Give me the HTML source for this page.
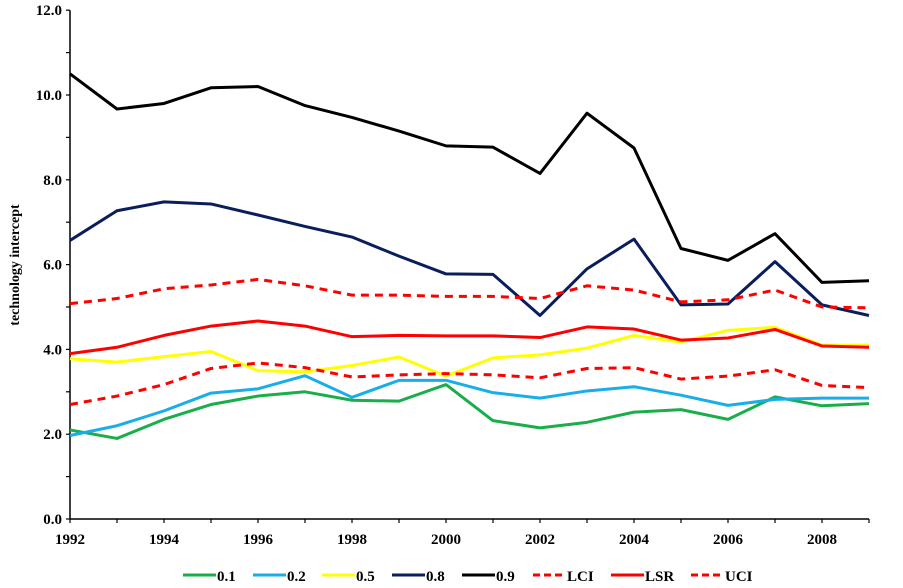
<!DOCTYPE html>
<html><head><meta charset="utf-8"><style>
body{margin:0;background:#fff;}
svg text{font-family:"Liberation Serif",serif;font-weight:bold;fill:#000;}
</style></head><body>
<svg id="chart" width="903" height="583"></svg>
<script>
const years=[1992,1993,1994,1995,1996,1997,1998,1999,2000,2001,2002,2003,2004,2005,2006,2007,2008,2009];
const s01=[2.1,1.9,2.35,2.7,2.9,3.0,2.8,2.78,3.17,2.32,2.15,2.28,2.52,2.58,2.35,2.88,2.67,2.72];
const s02=[1.97,2.2,2.55,2.97,3.07,3.38,2.87,3.27,3.27,2.98,2.85,3.02,3.12,2.92,2.68,2.82,2.85,2.85];
const s05=[3.78,3.7,3.83,3.95,3.5,3.47,3.62,3.82,3.37,3.8,3.87,4.03,4.33,4.17,4.45,4.52,4.1,4.1];
const s08=[6.57,7.27,7.48,7.43,7.17,6.9,6.65,6.2,5.78,5.77,4.8,5.9,6.6,5.05,5.07,6.07,5.05,4.8];
const s09=[10.5,9.67,9.8,10.17,10.2,9.75,9.47,9.15,8.8,8.77,8.15,9.57,8.75,6.38,6.1,6.73,5.58,5.62];
const lci=[2.7,2.9,3.17,3.55,3.68,3.57,3.35,3.4,3.43,3.4,3.33,3.55,3.57,3.3,3.37,3.52,3.15,3.1];
const lsr=[3.9,4.05,4.33,4.55,4.67,4.55,4.3,4.33,4.32,4.32,4.28,4.53,4.48,4.22,4.27,4.47,4.08,4.05];
const uci=[5.08,5.2,5.43,5.52,5.65,5.5,5.28,5.28,5.25,5.25,5.2,5.5,5.4,5.12,5.17,5.4,5.0,4.98];
const yTicks=[0,2,4,6,8,10,12];
const xLabels=[1992,1994,1996,1998,2000,2002,2004,2006,2008];
const NS='http://www.w3.org/2000/svg';
const svg=document.getElementById('chart');
const x=v=>70+(v-1992)*47;
const y=v=>519-v*42.4;
function mk(tag,a,parent){const e=document.createElementNS(NS,tag);for(const k in a)e.setAttribute(k,a[k]);(parent||svg).appendChild(e);return e;}
const ax=mk('line',{x1:70,y1:y(12),x2:70,y2:519,stroke:'#000','stroke-width':1.5});


const bx=mk('line',{x1:70,y1:519,x2:x(2009),y2:519,stroke:'#000','stroke-width':1.5});


for(let v=0;v<=12;v++){mk('line',{x1:66,y1:y(v),x2:70,y2:y(v),stroke:'#000','stroke-width':1.2});}
yTicks.forEach(v=>{const t=mk('text',{x:62,y:y(v)+5,'text-anchor':'end','font-size':15});t.textContent=v.toFixed(1);

});
for(let yr=1992;yr<=2009;yr++){mk('line',{x1:x(yr),y1:519,x2:x(yr),y2:523,stroke:'#000','stroke-width':1.2});}
xLabels.forEach(v=>{const t=mk('text',{x:x(v),y:544,'text-anchor':'middle','font-size':15});t.textContent=v;

});
const yt=mk('text',{x:0,y:0,transform:'translate(19,265) rotate(-90)','text-anchor':'middle','font-size':14});
yt.textContent='technology intercept';


const series=[
 {d:s01,c:'#1aae4a',dash:null,n:'0.1',lx:183},
 {d:s02,c:'#19aee8',dash:null,n:'0.2',lx:253},
 {d:s05,c:'#ffff00',dash:null,n:'0.5',lx:322},
 {d:s08,c:'#0a1e5c',dash:null,n:'0.8',lx:392},
 {d:s09,c:'#000000',dash:null,n:'0.9',lx:462},
 {d:lci,c:'#ff0000',dash:'8,6',n:'LCI',lx:533},
 {d:lsr,c:'#ff0000',dash:null,n:'LSR',lx:611},
 {d:uci,c:'#ff0000',dash:'8,6',n:'UCI',lx:691}];
series.forEach(s=>{
 const p=mk('polyline',{points:s.d.map((v,i)=>x(years[i])+','+y(v)).join(' '),fill:'none',stroke:s.c,'stroke-width':3,'stroke-linejoin':'round'});
 if(s.dash)p.setAttribute('stroke-dasharray',s.dash);
 
 
 const g=mk('g',{});
 
 
 const l=mk('line',{x1:s.lx,y1:575,x2:s.lx+33,y2:575,stroke:s.c,'stroke-width':3},g);
 if(s.dash)l.setAttribute('stroke-dasharray','7,4');
 const t=mk('text',{x:s.lx+34,y:581,'font-size':15},g);t.textContent=s.n;
});
</script>
</body></html>
